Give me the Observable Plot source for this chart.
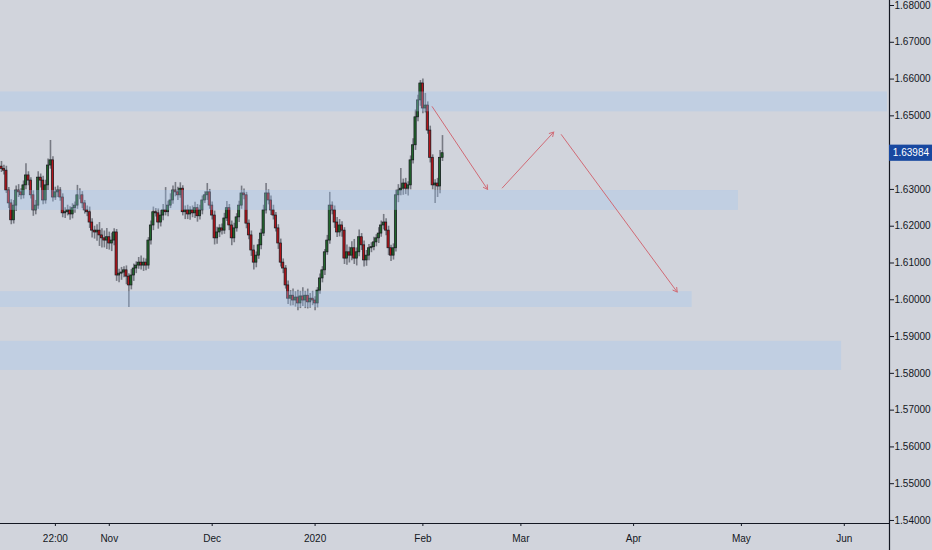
<!DOCTYPE html>
<html>
<head>
<meta charset="utf-8">
<script src="https://cdn.jsdelivr.net/npm/d3@7"></script>
<script src="https://cdn.jsdelivr.net/npm/@observablehq/plot@0.6"></script>
<style>
  body { margin: 0; background: #d1d4dc; }
  #chart svg { display: block; }
</style>
</head>
<body>
<div id="chart"></div>
<script>
// 12h candles, one entry per bar (bar 0 = left edge)
const firstOpen = 1.6362;
const closes = [
  1.6356, 1.6351, 1.6297, 1.6262, 1.6216, 1.6256, 1.6297, 1.6292, 1.6284, 1.6311,
  1.6338, 1.6324, 1.6284, 1.6243, 1.6256, 1.6332, 1.6324, 1.6270, 1.6311, 1.6365,
  1.6379, 1.6278, 1.6292, 1.6297, 1.6278, 1.6235, 1.6238, 1.6243, 1.6232, 1.6249,
  1.6256, 1.6284, 1.6284, 1.6262, 1.6243, 1.6238, 1.6210, 1.6188, 1.6183, 1.6188,
  1.6175, 1.6167, 1.6161, 1.6170, 1.6153, 1.6161, 1.6183, 1.6066, 1.6071, 1.6074,
  1.6080, 1.6063, 1.6039, 1.6066, 1.6085, 1.6093, 1.6101, 1.6093, 1.6101, 1.6093,
  1.6161, 1.6202, 1.6238, 1.6235, 1.6210, 1.6229, 1.6243, 1.6238, 1.6256, 1.6270,
  1.6297, 1.6292, 1.6284, 1.6302, 1.6238, 1.6243, 1.6232, 1.6243, 1.6235, 1.6249,
  1.6227, 1.6243, 1.6270, 1.6284, 1.6292, 1.6256, 1.6229, 1.6167, 1.6183, 1.6194,
  1.6188, 1.6221, 1.6249, 1.6202, 1.6167, 1.6194, 1.6224, 1.6256, 1.6289, 1.6284,
  1.6207, 1.6175, 1.6134, 1.6101, 1.6120, 1.6148, 1.6180, 1.6243, 1.6289, 1.6270,
  1.6243, 1.6229, 1.6194, 1.6153, 1.6101, 1.6085, 1.6039, 1.6003, 1.6011, 1.5998,
  1.6006, 1.5990, 1.6009, 1.5998, 1.6011, 1.5993, 1.6003, 1.5998, 1.5990, 1.6025,
  1.6058, 1.6080, 1.6129, 1.6161, 1.6256, 1.6243, 1.6210, 1.6183, 1.6202, 1.6188,
  1.6112, 1.6129, 1.6120, 1.6140, 1.6112, 1.6129, 1.6170, 1.6148, 1.6107, 1.6120,
  1.6140, 1.6143, 1.6156, 1.6167, 1.6180, 1.6202, 1.6210, 1.6188, 1.6140, 1.6120,
  1.6140, 1.6284, 1.6297, 1.6302, 1.6316, 1.6302, 1.6311, 1.6379, 1.6420, 1.6496,
  1.6542, 1.6588, 1.6520, 1.6528, 1.6460, 1.6386, 1.6311, 1.6316, 1.6308, 1.6386, 1.63984
];
// wick length above / below the body, in pips
const wickUp = [
  14, 10, 12, 8, 10, 14, 12, 16, 10, 12,
  32, 10, 8, 12, 14, 16, 10, 12, 14, 18,
  54, 10, 14, 12, 8, 10, 12, 14, 10, 12,
  10, 27, 18, 10, 8, 12, 14, 10, 12, 16,
  22, 18, 20, 24, 14, 20, 10, 8, 12, 14,
  10, 12, 8, 16, 12, 10, 14, 18, 12, 10,
  8, 12, 14, 10, 12, 14, 16, 62, 12, 18,
  12, 22, 14, 16, 8, 12, 14, 10, 12, 16,
  10, 14, 12, 10, 24, 8, 10, 12, 14, 10,
  12, 14, 18, 10, 12, 14, 10, 12, 20, 12,
  8, 10, 12, 14, 10, 16, 12, 14, 27, 10,
  12, 14, 8, 10, 12, 10, 8, 12, 14, 18,
  16, 20, 14, 24, 12, 18, 14, 20, 10, 8,
  12, 10, 8, 14, 36, 10, 12, 14, 16, 10,
  8, 20, 14, 18, 24, 12, 20, 10, 12, 14,
  10, 12, 14, 10, 16, 12, 22, 10, 12, 8,
  12, 14, 16, 55, 12, 14, 10, 12, 18, 20,
  14, 8, 12, 33, 10, 12, 8, 10, 14, 20, 48
];
const wickDown = [
  10, 12, 8, 14, 12, 10, 16, 14, 12, 10,
  12, 14, 10, 16, 12, 10, 20, 12, 10, 14,
  10, 12, 8, 14, 10, 12, 14, 10, 16, 12,
  14, 10, 12, 14, 10, 12, 16, 20, 18, 24,
  30, 26, 20, 24, 18, 22, 14, 16, 20, 18,
  14, 22, 60, 12, 16, 14, 10, 12, 16, 14,
  10, 12, 14, 10, 18, 12, 14, 10, 12, 8,
  10, 12, 14, 8, 10, 20, 14, 16, 12, 14,
  16, 10, 12, 8, 14, 10, 12, 18, 16, 14,
  12, 10, 8, 14, 20, 12, 10, 14, 10, 12,
  14, 12, 16, 20, 14, 10, 12, 8, 10, 12,
  14, 12, 10, 16, 12, 14, 10, 16, 20, 14,
  18, 20, 14, 16, 22, 18, 16, 14, 20, 12,
  10, 12, 14, 8, 10, 12, 16, 14, 12, 18,
  16, 18, 20, 14, 16, 20, 12, 14, 18, 16,
  14, 12, 10, 12, 14, 10, 12, 14, 20, 16,
  12, 10, 20, 14, 18, 16, 20, 12, 10, 14,
  12, 16, 14, 12, 10, 14, 12, 49, 30, 20, 10
];

// time axis: bar index of each label
const tickBars = [22, 44, 86, 128, 172, 212, 258, 302, 344];
const tickLabels = ["22:00", "Nov", "Dec", "2020", "Feb", "Mar", "Apr", "May", "Jun"];
// 1.64000 sits under the last-price label, so it is not listed
const priceTicks = [1.54, 1.55, 1.56, 1.57, 1.58, 1.59, 1.60, 1.61, 1.62, 1.63, 1.65, 1.66, 1.67, 1.68];
const lastPrice = 1.63984;

// support / resistance zones
const zoneHi  = [1.6565, 1.6297, 1.6022, 1.5887];
const zoneLo  = [1.6511, 1.6243, 1.5979, 1.5808];
const zoneEnd = [361.6, 300.8, 281.9, 342.9];

// projected path arrows [bar, price]
const arrowFrom = [[175.8, 1.6525], [204.4, 1.6304], [228.5, 1.6449]];
const arrowTo   = [[198.4, 1.6300], [225.4, 1.6456], [275.8, 1.6021]];

const xMin = -0.4, xMax = 362.45;
const yMin = 1.53918, yMax = 1.68136;

const candles = closes.map((c, i) => {
  const o = i ? closes[i - 1] : firstOpen;
  return {i, o, c, h: Math.max(o, c) + wickUp[i] / 1e4, l: Math.min(o, c) - wickDown[i] / 1e4};
});
const zones = zoneHi.map((hi, i) => ({hi, lo: zoneLo[i], end: zoneEnd[i]}));
const arrows = arrowFrom.map((a, i) => ({x1: a[0], y1: a[1], x2: arrowTo[i][0], y2: arrowTo[i][1]}));
const labelOf = new Map(tickBars.map((b, i) => [b, tickLabels[i]]));

const chart = Plot.plot({
  width: 932,
  height: 550,
  marginTop: 0,
  marginLeft: 0,
  marginRight: 43,
  marginBottom: 27,
  style: {background: "#d1d4dc", color: "#131722", fontSize: "10px", fontFamily: "'Liberation Sans', Arial, sans-serif"},
  x: {domain: [xMin, xMax], axis: "bottom", ticks: tickBars, tickFormat: d => labelOf.get(d), tickSize: 3, tickPadding: 8, label: null},
  y: {domain: [yMin, yMax], axis: "right", ticks: priceTicks, tickFormat: d3.format(".5f"), tickSize: 4, tickPadding: 1, label: null},
  color: {type: "identity"},
  marks: [
    Plot.ruleX(candles, {x: "i", y1: "l", y2: "h", stroke: "#60636d", strokeWidth: 1.6, strokeOpacity: 0.8}),
    Plot.rect(candles, {
      x1: d => d.i - 0.45, x2: d => d.i + 0.45,
      y1: d => Math.min(d.o, d.c), y2: d => Math.max(d.o, d.c),
      fill: d => d.c >= d.o ? "#22672c" : "#b3151b",
      stroke: "#16181d", strokeWidth: 0.7
    }),
    Plot.rect(zones, {x1: xMin, x2: "end", y1: "lo", y2: "hi", fill: "#9ec3ee", fillOpacity: 0.32}),
    Plot.arrow(arrows, {x1: "x1", y1: "y1", x2: "x2", y2: "y2", stroke: "#d06a75", strokeWidth: 1, headLength: 7, bend: 0}),
    Plot.ruleY([yMin], {stroke: "#131722", strokeWidth: 1.2}),
    Plot.ruleX([xMax], {y1: 1.5318, y2: yMax, stroke: "#131722", strokeWidth: 1.2}),
    Plot.rect([lastPrice], {x1: xMax, x2: 380, y1: d => d - 0.0022, y2: d => d + 0.0022, fill: "#1848a0"}),
    Plot.text([lastPrice], {x: 371.2, y: d => d, text: d => d3.format(".5f")(d), fill: "white", fontSize: 10})
  ]
});
d3.select('#chart').append(() => chart);
</script>
</body>
</html>
